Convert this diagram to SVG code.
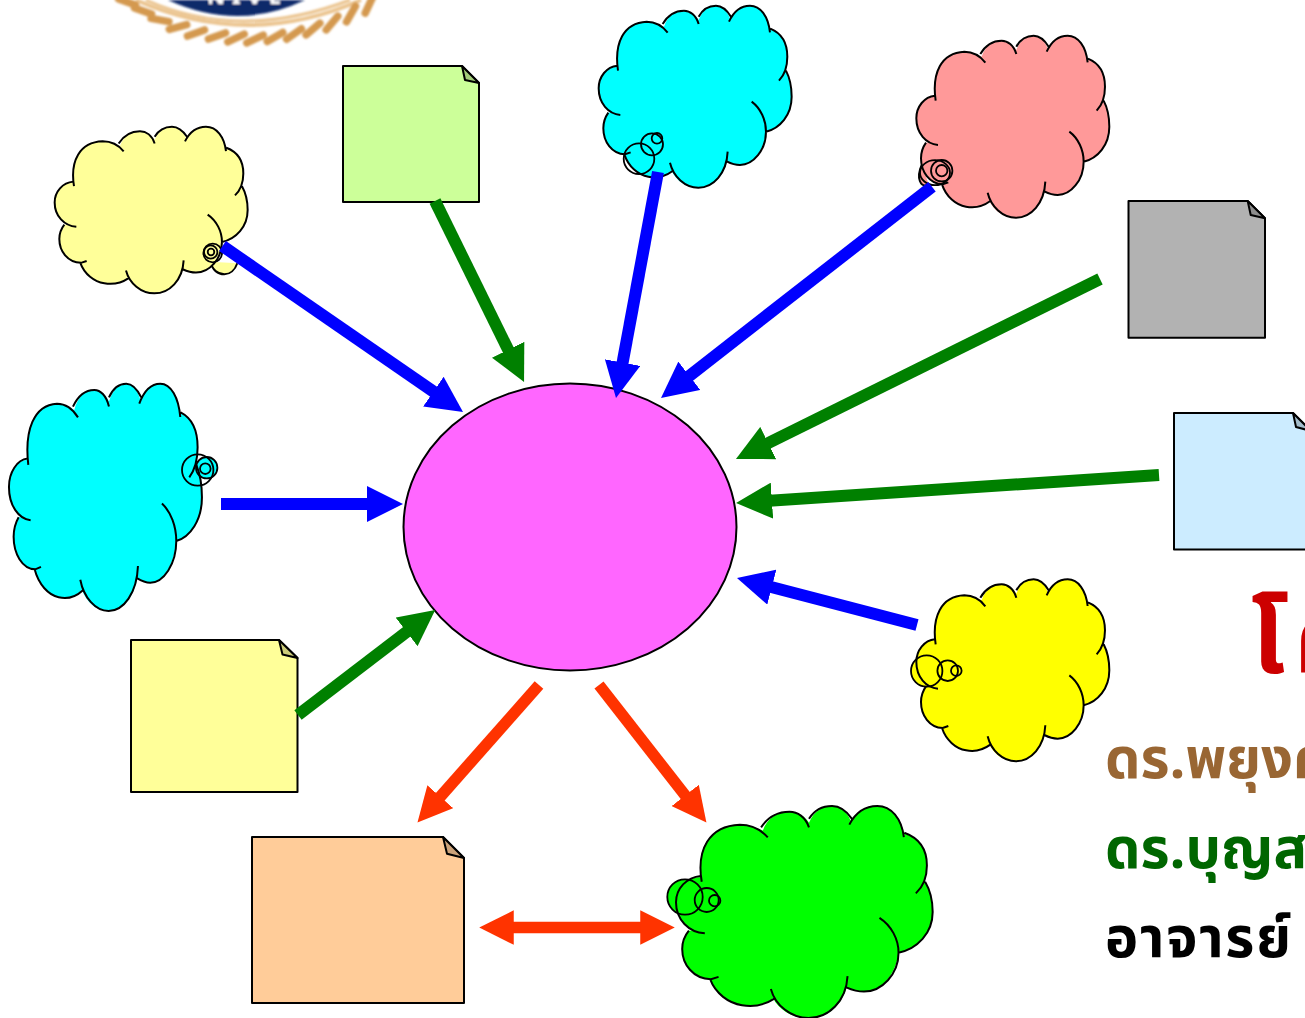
<svg xmlns="http://www.w3.org/2000/svg" xmlns:xlink="http://www.w3.org/1999/xlink" width="1305" height="1018" viewBox="0 0 1305 1018">
<style>
.o{stroke:#000;stroke-width:2;fill:none;vector-effect:non-scaling-stroke}
.f{stroke:none}
.t{stroke:#000;stroke-width:1.8;fill:none}
.n{stroke:#000;stroke-width:2;stroke-linejoin:round}
.fold{stroke:#000;stroke-width:2;stroke-linejoin:round}
.a{fill:none;stroke-linecap:butt}
.b{stroke:#00f;stroke-width:12;marker-end:url(#hb)}
.g{stroke:#008000;stroke-width:12;marker-end:url(#hg)}
.r{stroke:#f30;stroke-width:11.5;marker-end:url(#hr)}
.rope line{stroke:#D4994F;stroke-width:7.5;stroke-linecap:round}
text{font-weight:bold;font-family:"Noto Sans Thai","Noto Serif Thai","Liberation Serif","DejaVu Serif",serif}
</style>
<defs>
<marker id="hb" viewBox="0 0 3 3" refX="1.5" refY="1.5" markerWidth="3" markerHeight="3" orient="auto-start-reverse"><path d="M0,0L3,1.5L0,3Z" fill="#00f"/></marker>
<marker id="hg" viewBox="0 0 3 3" refX="1.5" refY="1.5" markerWidth="3" markerHeight="3" orient="auto-start-reverse"><path d="M0,0L3,1.5L0,3Z" fill="#008000"/></marker>
<marker id="hr" viewBox="0 0 3 3" refX="1.5" refY="1.5" markerWidth="3" markerHeight="3" orient="auto-start-reverse"><path d="M0,0L3,1.5L0,3Z" fill="#f30"/></marker>
<filter id="soft" x="-5%" y="-20%" width="110%" height="140%"><feGaussianBlur stdDeviation="0.8"/></filter>
<path id="cf" class="f" d="M84,200C72,130 100,68 170,65C190,65 205,72 222,80C232,48 255,32 282,32C300,32 318,45 326,60C338,28 358,17 378,17C398,17 412,32 420,55C432,32 455,17 480,17C512,17 535,50 540,88C575,100 592,130 592,170C592,185 590,200 587,212C600,235 605,265 605,290C605,345 570,385 528,395C522,450 490,495 450,495C435,495 422,490 411,484C400,530 370,563 325,563C285,563 258,540 245,512C225,530 200,535 175,530C145,525 115,500 103,463C65,462 40,425 40,385C40,368 45,352 53,338L65.6,337.6C42.3,325.2 26,298.75 26,265C26,230 50,200 84,200Z"/>
<path id="ca" class="o" d="M84,212C72,130 100,68 170,65C195,65 218,78 233,98M218,72C232,48 255,32 282,32C300,32 318,45 326,72M326,50C338,28 358,17 378,17C398,17 412,32 423,50M417,65C432,32 455,17 480,17C512,17 535,50 540,97M541,86C575,100 592,130 592,170C592,200 583,225 567,242M588,212C600,235 605,265 605,290C605,345 570,385 528,395M485,305C512,325 528,360 528,395C528,450 490,495 450,495C435,495 422,490 410,484M413,455C410,520 370,563 325,563C285,563 250,530 240,488M248,513C225,530 200,535 175,530C145,525 115,500 103,463M122,457L105,463C65,462 40,425 40,385C40,368 45,352 55,338M91,345C55,342 26,310 26,265C26,230 50,200 82,197"/>
<g id="cloud"><use xlink:href="#cf"/><use xlink:href="#ca"/></g>
</defs>
<rect width="1305" height="1018" fill="#fff"/>
<g id="logo" filter="url(#soft)">
<path d="M136,0Q248,50 361,0" fill="none" stroke="#EBC48F" stroke-width="4"/>
<path d="M146,0Q240,42 350,0" fill="none" stroke="#EBC48F" stroke-width="3"/>
<path d="M168,0Q238,32 305,0Z" fill="#0F2A6B"/>
<text x="207" y="4" font-size="22" fill="#fff" letter-spacing="7">NIVE</text>
<g class="rope">
<line x1="118.500" y1="-1.100" x2="135.500" y2="5.100"/>
<line x1="134.500" y1="7.900" x2="151.500" y2="14.100"/>
<line x1="151.100" y1="18.400" x2="168.900" y2="21.600"/>
<line x1="169.300" y1="29.300" x2="186.700" y2="24.700"/>
<line x1="187.500" y1="36.100" x2="204.500" y2="29.900"/>
<line x1="208.500" y1="39.100" x2="225.500" y2="32.900"/>
<line x1="227.800" y1="41.800" x2="244.200" y2="34.200"/>
<line x1="246.800" y1="42.800" x2="263.200" y2="35.200"/>
<line x1="267.200" y1="41.500" x2="282.800" y2="32.500"/>
<line x1="286.600" y1="39.200" x2="301.400" y2="28.800"/>
<line x1="306.100" y1="34.800" x2="319.900" y2="23.200"/>
<line x1="326.200" y1="29.900" x2="337.800" y2="16.100"/>
<line x1="346.500" y1="21.800" x2="355.500" y2="6.200"/>
<line x1="365.200" y1="13.200" x2="372.800" y2="-3.200"/>
</g>
</g>
<g id="title" >
<text x="1251" y="673" font-size="98" fill="#CC0000">โ<tspan dx="10">ค</tspan></text>
<text x="1105" y="778" font-size="56" fill="#996633">ดร.พยุงศ</text>
<text x="1105" y="868" font-size="56" fill="#006600">ดร.บุญส</text>
<text x="1105" y="957" font-size="56" fill="#000" textLength="186">อาจารย์</text>
</g>
<g id="center"><ellipse cx="570" cy="527" rx="166.500" ry="143.500" fill="#FF66FF" stroke="#000" stroke-width="2"/></g>
<g id="note-green">
<path class="n" fill="#CCFF99" d="M343,66H462L479,83V202H343Z"/><path class="fold" fill="#A3CC7A" d="M462,66L465,80L479,83Z"/></g>
<g id="note-gray"><path class="n" fill="#B2B2B2" d="M1128.500,201H1247.700L1265,218.300V337.700H1128.500Z"/><path class="fold" fill="#8E8E8E" d="M1247.700,201L1250.700,215L1265,218.300Z"/></g>
<g id="note-blue"><path class="n" fill="#CCECFF" d="M1174,413H1293L1311,431V549.500H1174Z"/><path class="fold" fill="#A3BDCC" d="M1293,413L1296,427L1311,431Z"/></g>
<g id="note-yellow"><path class="n" fill="#FFFF99" d="M131,640H279L297.500,658V792H131Z"/><path class="fold" fill="#CCCC7A" d="M279,640L282.500,654.500L297.500,658Z"/></g>
<g id="note-peach"><path class="n" fill="#FFCC99" d="M252,837H443L464,858V1003H252Z"/><path class="fold" fill="#CCA37A" d="M443,837L447,853.700L464,858Z"/></g>
<g id="cloud-pale" fill="#FFFF99">
<path d="M210.700,261.700C211.700,270 218.300,274.300 224.300,274.300C230,274.300 235,270 237.300,263.300" stroke="#000" stroke-width="2"/>
<use xlink:href="#cloud" transform="matrix(.3333 0 0 .3053 46 121.480)"/>
<circle class="t" cx="212.700" cy="253" r="9.300"/><circle class="t" cx="210.700" cy="252" r="6.700"/><circle class="t" cx="211" cy="252" r="3.300"/></g>
<g id="cloud-cyan-top" fill="#00FFFF">
<use xlink:href="#cloud" transform="matrix(.3333 0 0 .3333 590 0)"/>
<circle class="t" cx="639" cy="158.700" r="15.300"/><circle class="t" cx="652" cy="144.300" r="11"/><circle class="t" cx="657" cy="138.300" r="5.300"/></g>
<g id="cloud-pink" fill="#FF9999">
<path d="M921.700,165C916,178 920,188 929,185" stroke="#000" stroke-width="2"/>
<use xlink:href="#cloud" transform="matrix(.3333 0 0 .3333 907.670 30)"/>
<ellipse class="t" cx="935" cy="172.700" rx="15" ry="12.500"/><circle class="t" cx="941.700" cy="170.700" r="10.700"/><circle class="t" cx="941.700" cy="170.700" r="5.700"/></g>
<g id="cloud-cyan-left" fill="#00FFFF">
<circle cx="206.700" cy="467.700" r="10.700" class="f"/>
<use xlink:href="#cloud" transform="matrix(.3333 0 0 .4163 .3 376.590)"/>
<circle class="t" cx="197.700" cy="470" r="15.700"/><circle class="t" cx="206.700" cy="467.700" r="10.700"/><circle class="t" cx="205.300" cy="468.700" r="5.300"/></g>
<g id="cloud-yellow" fill="#FFFF00">
<circle cx="926.700" cy="671" r="15.700" class="f"/>
<use xlink:href="#cloud" transform="matrix(.3333 0 0 .3333 907.670 573.670)"/>
<circle class="t" cx="926.700" cy="671" r="15.700"/><circle class="t" cx="947.700" cy="670.700" r="10.300"/><circle class="t" cx="956.300" cy="670.700" r="5.300"/></g>
<g id="cloud-green" fill="#00FF00">
<circle cx="685" cy="897" r="17.700" class="f"/>
<use xlink:href="#cloud" transform="matrix(.4433 0 0 .3883 664.470 799.400)"/>
<circle class="t" cx="685" cy="897" r="17.700"/><circle class="t" cx="706.700" cy="900" r="12"/><circle class="t" cx="714.700" cy="900.700" r="5.700"/></g>
<g id="connectors" class="a">
<line class="b" x1="222.500" y1="246" x2="448.200" y2="401.800"/>
<line class="g" x1="435" y1="201" x2="516.100" y2="365.900"/>
<line class="b" x1="658" y1="172" x2="619.300" y2="380.300"/>
<line class="b" x1="932" y1="186.700" x2="675.200" y2="386.900"/>
<line class="g" x1="1100" y1="279" x2="752.100" y2="451"/>
<line class="g" x1="1159" y1="475" x2="754" y2="501.800"/>
<line class="b" x1="917" y1="625" x2="754.400" y2="582.600"/>
<line class="b" x1="221" y1="504" x2="385" y2="504"/>
<line class="g" x1="298" y1="715" x2="420.900" y2="621"/>
<line class="r" x1="539" y1="685" x2="428.900" y2="809.600"/>
<line class="r" x1="599" y1="685" x2="695.800" y2="809"/>
<line class="r" style="marker-start:url(#hr)" x1="496.500" y1="927.500" x2="657.500" y2="927.500"/>
</g>
</svg>
